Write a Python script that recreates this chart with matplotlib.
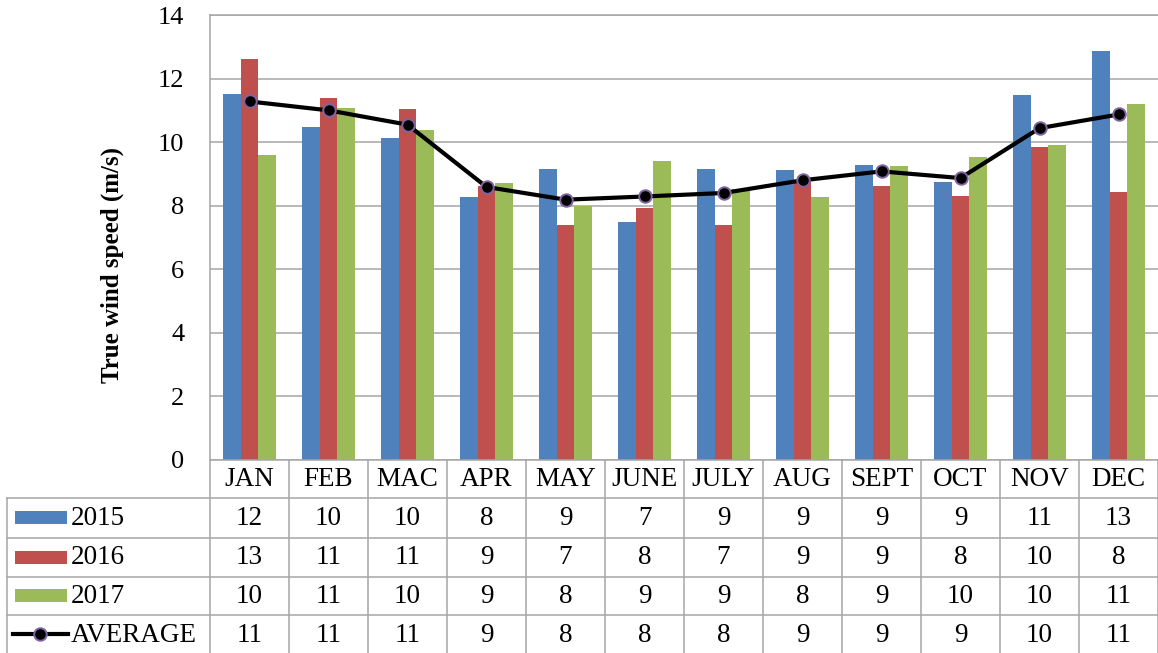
import matplotlib
matplotlib.use("Agg")
import matplotlib.pyplot as plt
from matplotlib.patches import Rectangle
from matplotlib.lines import Line2D
import numpy as np

# Monthly true wind speed (m/s)
months = ["JAN", "FEB", "MAC", "APR", "MAY", "JUNE", "JULY", "AUG", "SEPT", "OCT", "NOV", "DEC"]
speed_2015 = [11.52, 10.47, 10.14, 8.26, 9.15, 7.49, 9.15, 9.12, 9.28, 8.76, 11.47, 12.87]
speed_2016 = [12.63, 11.40, 11.04, 8.62, 7.39, 7.94, 7.39, 8.80, 8.63, 8.31, 9.86, 8.43]
speed_2017 = [9.60, 11.07, 10.38, 8.71, 7.98, 9.41, 8.52, 8.26, 9.24, 9.52, 9.90, 11.20]
speed_avg = [11.28, 11.00, 10.55, 8.59, 8.19, 8.29, 8.40, 8.80, 9.08, 8.87, 10.44, 10.87]

series_names = ["2015", "2016", "2017"]
series_vals = [speed_2015, speed_2016, speed_2017]
series_colors = ["#4F81BD", "#C0504D", "#9BBB59"]
avg_name = "AVERAGE"

plt.rcParams["font.family"] = ["Liberation Serif", "DejaVu Serif"]
FS = 19.5
TICK_FS = 19
GRID = "#A6A6A6"


def half_up(v):
    return str(int(np.floor(v + 0.5)))


W, H = 1158, 653
fig = plt.figure(figsize=(W / 100, H / 100), dpi=100)

# plot area in pixels
left_px, right_px, top_px, bottom_px = 210, 1158, 15, 460
col_px = (right_px - left_px) / len(months)
ax = fig.add_axes([left_px / W, (H - bottom_px) / H,
                   (right_px - left_px) / W, (bottom_px - top_px) / H])

x = np.arange(len(months))
bw = 0.224
for k, (vals, col) in enumerate(zip(series_vals, series_colors)):
    ax.bar(x + (k - 1) * bw, vals, width=bw, color=col, edgecolor="none", zorder=2)

ax.plot(x, speed_avg, color="black", lw=3.0, marker="o", markersize=9,
        markerfacecolor="black", markeredgecolor="#8064A2", markeredgewidth=1.4,
        zorder=3, solid_joinstyle="round")

ax.set_xlim(-0.5, len(months) - 0.5)
ax.set_ylim(0, 14)
ax.set_yticks(np.arange(0, 15, 2))
ax.set_xticks([])
ax.yaxis.grid(True, color=GRID, lw=1.1)
ax.set_axisbelow(True)
ax.tick_params(axis="y", length=0, pad=18.5, labelsize=TICK_FS)
for s in ["left", "bottom", "top"]:
    ax.spines[s].set_color(GRID)
    ax.spines[s].set_linewidth(1.1)
ax.spines["right"].set_visible(False)

# overlay in category units (x) and pixels (y) for the data table
ov = fig.add_axes([0, 0, 1, 1])
ov.set_xlim(-0.5 - left_px / col_px, len(months) - 0.5 + (W - right_px) / col_px)
ov.set_ylim(H, 0)
ov.axis("off")
ov.patch.set_visible(False)


def px2u(px):
    return -0.5 + (px - left_px) / col_px


row_edges = [460, 498, 537.5, 576.5, 615, 653]
tbl_left = px2u(7)
n = len(months)

# vertical lines
for k in range(n + 1):
    ov.plot([k - 0.5, k - 0.5], [row_edges[0], row_edges[-1]], color=GRID, lw=1.1)
ov.plot([tbl_left, tbl_left], [row_edges[1], row_edges[-1]], color=GRID, lw=1.1)
# horizontal lines
for y in row_edges[1:-1]:
    ov.plot([tbl_left, n - 0.5], [y, y], color=GRID, lw=1.1)

# month header
hdr_y = (row_edges[0] + row_edges[1]) / 2
for i, m in enumerate(months):
    ov.text(i, hdr_y + 1, m, ha="center", va="center", fontsize=FS)

# data rows
all_rows = series_vals + [speed_avg]
all_names = series_names + [avg_name]
for r, (name, vals) in enumerate(zip(all_names, all_rows)):
    yc = (row_edges[r + 1] + row_edges[r + 2]) / 2
    for i, v in enumerate(vals):
        ov.text(i, yc + 1, half_up(v), ha="center", va="center", fontsize=FS)
    if r < 3:
        ov.add_patch(Rectangle((px2u(15), yc - 6.5), px2u(67) - px2u(15), 13,
                               facecolor=series_colors[r], edgecolor="none"))
    else:
        ov.add_line(Line2D([px2u(13), px2u(68)], [yc, yc], color="black", lw=3.0))
        ov.plot([px2u(40)], [yc], marker="o", markersize=9, markerfacecolor="black",
                markeredgecolor="#8064A2", markeredgewidth=1.4)
    ov.text(px2u(71), yc + 1, name, ha="left", va="center", fontsize=FS)

# y-axis title
ov.text(px2u(112), 265, "True wind speed (m/s)", rotation=90, ha="center", va="center",
        fontsize=18, fontweight="bold")

fig.savefig("out.png", dpi=100)
